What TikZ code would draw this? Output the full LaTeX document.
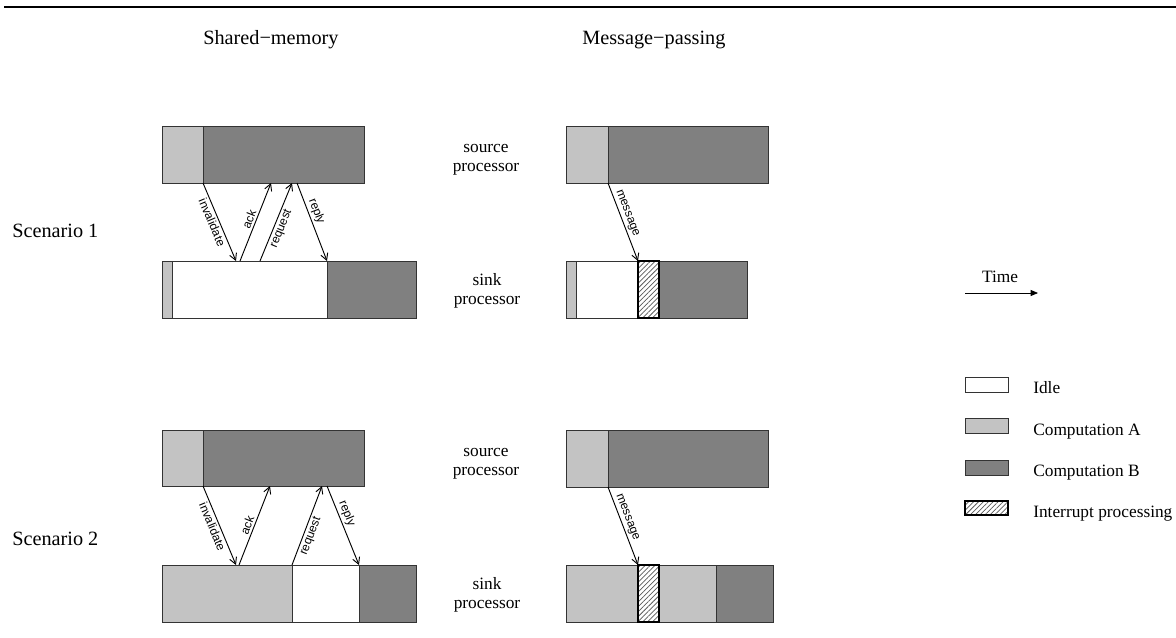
\documentclass[tikz,border=0pt]{standalone}
\usepackage{fontspec}
\setmainfont{Liberation Serif}
\newfontfamily\lblfont{Liberation Sans}
\usetikzlibrary{arrows.meta,patterns.meta,fit,calc}

\definecolor{compA}{HTML}{C3C3C3}
\definecolor{compB}{HTML}{808080}

\begin{document}
\begin{tikzpicture}[x=0.75pt,y=-0.75pt,
  seg/.style={draw=black!80, line width=0.75pt, inner sep=0pt, outer sep=0pt},
  idle/.style={seg, fill=white},
  compa/.style={seg, fill=compA},
  compb/.style={seg, fill=compB},
  intr/.style={seg, draw=black, line width=1.1pt,
    pattern={Lines[angle=45,distance=2.6pt,line width=0.55pt]}, pattern color=black!65},
  msg/.style={line width=0.7pt, -{Straight Barb[length=5pt,width=5.5pt]}},
  lbl/.style={font=\lblfont\fontsize{9}{10}\selectfont, sloped, inner sep=1.5pt},
  head/.style={font=\fontsize{15.2}{18}\selectfont, anchor=base west, inner sep=0pt},
  proc/.style={font=\fontsize{13}{14.5}\selectfont, align=center, inner sep=0pt},
  legtext/.style={font=\fontsize{13}{15}\selectfont, anchor=base west, inner sep=0pt},
]
\useasboundingbox (0,0) rectangle (1176,637);

% top rule
\draw[line width=1.5pt] (4,7) -- (1176,7);

% column and row headings
\node[head] (hsm) at (203,44) {Shared−memory};
\node[head] (hmp) at (582,44) {Message−passing};
\node[head] (sc1) at (12,237) {Scenario 1};
\node[head] (sc2) at (12,545) {Scenario 2};

% processor names
\node[proc] (src1) at (486,160) {source\\processor};
\node[proc] (snk1) at (487,291) {sink\\processor};
\node[proc] (src2) at (486,464) {source\\processor};
\node[proc] (snk2) at (487,595) {sink\\processor};

% ---------- Scenario 1, shared memory ----------
\node[compa, fit={(162,126)(203,183)}] (s1a) {};
\node[compb, fit={(203,126)(364,183)}] (s1b) {};
\node[compa, fit={(162,261)(172,318)}] (k1a) {};
\node[idle,  fit={(172,261)(327,318)}] (k1i) {};
\node[compb, fit={(327,261)(416,318)}] (k1b) {};

\draw[msg] (s1a.south east) -- ($(k1i.north west)+(64,0)$)
  node[lbl, below, pos=0.47] {invalidate};
\draw[msg] ($(k1i.north west)+(68,0)$) -- ($(s1b.south west)+(68,0)$)
  node[lbl, above, pos=0.5] {ack};
\draw[msg] ($(k1i.north west)+(88,0)$) -- ($(s1b.south west)+(89,0)$)
  node[lbl, below, pos=0.45] {request};
\draw[msg] ($(s1b.south west)+(94,0)$) -- (k1b.north west)
  node[lbl, above, pos=0.4] {reply};

% ---------- Scenario 1, message passing ----------
\node[compa, fit={(566,126)(608,183)}] (m1a) {};
\node[compb, fit={(608,126)(768,183)}] (m1b) {};
\node[compa, fit={(566,261)(576,318)}] (n1a) {};
\node[idle,  fit={(576,261)(638,318)}] (n1i) {};
\node[compb, fit={(659,261)(747,318)}] (n1b) {};
\node[intr,  fit={(638,261)(659,318)}] (n1h) {};

\draw[msg] (m1a.south east) -- (n1h.north west)
  node[lbl, above, pos=0.42] {message};

% ---------- Scenario 2, shared memory ----------
\node[compa, fit={(162,430)(203,486)}] (s2a) {};
\node[compb, fit={(203,430)(364,486)}] (s2b) {};
\node[compa, fit={(162,565)(292,622)}] (k2a) {};
\node[idle,  fit={(292,565)(359,622)}] (k2i) {};
\node[compb, fit={(359,565)(416,622)}] (k2b) {};

\draw[msg] (s2a.south east) -- ($(k2a.north west)+(74,0)$)
  node[lbl, below, pos=0.48] {invalidate};
\draw[msg] ($(k2a.north west)+(77,0)$) -- ($(s2b.south west)+(67,0)$)
  node[lbl, above, pos=0.47] {ack};
\draw[msg] (k2i.north west) -- ($(s2b.south west)+(119,0)$)
  node[lbl, below, pos=0.4] {request};
\draw[msg] ($(s2b.south west)+(124,0)$) -- (k2b.north west)
  node[lbl, above, pos=0.39] {reply};

% ---------- Scenario 2, message passing ----------
\node[compa, fit={(566,430)(608,487)}] (m2a) {};
\node[compb, fit={(608,430)(768,487)}] (m2b) {};
\node[compa, fit={(566,565)(638,622)}] (n2a) {};
\node[compa, fit={(659,565)(716,622)}] (n2c) {};
\node[compb, fit={(716,565)(773,622)}] (n2b) {};
\node[intr,  fit={(638,565)(659,622)}] (n2h) {};

\draw[msg] (m2a.south east) -- (n2h.north west)
  node[lbl, above, pos=0.42] {message};

% ---------- time axis ----------
\node[font=\fontsize{13}{15}\selectfont, anchor=base, inner sep=0pt] (time) at (1000,282) {Time};
\coordinate (t0) at (965,293);
\coordinate (t1) at (1038,293);
\draw[line width=0.6pt, -{Triangle[length=5.5pt,width=4.5pt]}] (t0) -- (t1);

% ---------- legend ----------
\node[idle,  fit={(965,377)(1008,392)}] (kidle) {};
\node[compa, fit={(965,418)(1008,433)}] (kcompa) {};
\node[compb, fit={(965,460)(1008,475)}] (kcompb) {};
\node[intr,  fit={(965,501)(1008,515)}] (kintr) {};
\node[legtext] (tidle)  at (1033,393) {Idle};
\node[legtext] (tcompa) at (1033,435) {Computation A};
\node[legtext] (tcompb) at (1033,476) {Computation B};
\node[legtext] (tintr)  at (1033,517) {Interrupt processing};
\end{tikzpicture}
\end{document}
